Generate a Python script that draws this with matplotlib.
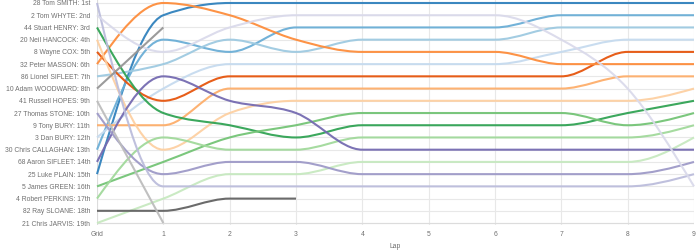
import matplotlib
matplotlib.use("Agg")
import matplotlib.pyplot as plt
from matplotlib.path import Path
from matplotlib.patches import PathPatch
from matplotlib import font_manager
import numpy as np

# ---- data ----
lap_labels = ["Grid", "1", "2", "3", "4", "5", "6", "7", "8", "9"]
driver_labels = [
    "28 Tom SMITH: 1st", "2 Tom WHYTE: 2nd", "44 Stuart HENRY: 3rd",
    "20 Neil HANCOCK: 4th", "8 Wayne COX: 5th", "32 Peter MASSON: 6th",
    "86 Lionel SIFLEET: 7th", "10 Adam WOODWARD: 8th", "41 Russell HOPES: 9th",
    "27 Thomas STONE: 10th", "9 Tony BURY: 11th", "3 Dan BURY: 12th",
    "30 Chris CALLAGHAN: 13th", "68 Aaron SIFLEET: 14th", "25 Luke PLAIN: 15th",
    "5 James GREEN: 16th", "4 Robert PERKINS: 17th", "82 Ray SLOANE: 18th",
    "21 Chris JARVIS: 19th",
]
# position at Grid, lap 1 ... lap 9 (shorter lists = retired)
pos_smith = [15, 2, 1, 1, 1, 1, 1, 1, 1, 1]
pos_whyte = [13, 4, 5, 3, 3, 3, 3, 2, 2, 2]
pos_henry = [7, 6, 4, 5, 4, 4, 4, 3, 3, 3]
pos_hancock = [12, 8, 6, 6, 6, 6, 6, 5, 4, 4]
pos_cox = [5, 9, 7, 7, 7, 7, 7, 7, 5, 5]
pos_masson = [6, 1, 2, 4, 5, 5, 5, 6, 6, 6]
pos_lsifleet = [11, 11, 8, 8, 8, 8, 8, 8, 7, 7]
pos_woodward = [4, 13, 10, 9, 9, 9, 9, 9, 9, 8]
pos_hopes = [3, 10, 11, 12, 11, 11, 11, 11, 10, 9]
pos_stone = [16, 14, 12, 11, 10, 10, 10, 10, 11, 10]
pos_tbury = [17, 12, 13, 13, 12, 12, 12, 12, 12, 11]
pos_dbury = [19, 17, 15, 15, 14, 14, 14, 14, 14, 12]
pos_callaghan = [14, 7, 9, 10, 13, 13, 13, 13, 13, 13]
pos_asifleet = [10, 15, 14, 14, 15, 15, 15, 15, 15, 14]
pos_plain = [1, 16, 16, 16, 16, 16, 16, 16, 16, 15]
pos_green = [2, 5, 3, 2, 2, 2, 2, 4, 8, 16]
pos_perkins = [18, 18, 17, 17]
pos_sloane = [8, 3]
pos_jarvis = [9, 19]

series = [pos_smith, pos_whyte, pos_henry, pos_hancock, pos_cox, pos_masson,
          pos_lsifleet, pos_woodward, pos_hopes, pos_stone, pos_tbury, pos_dbury,
          pos_callaghan, pos_asifleet, pos_plain, pos_green, pos_perkins,
          pos_sloane, pos_jarvis]

colors = ["#3182bd", "#6baed6", "#9ecae1", "#c6dbef",
          "#e6550d", "#fd8d3c", "#fdae6b", "#fdd0a2",
          "#31a354", "#74c476", "#a1d99b", "#c7e9c0",
          "#756bb1", "#9e9ac8", "#bcbddc", "#dadaeb",
          "#636363", "#969696", "#bdbdbd"]


def monotone_path(xs, ys):
    """d3 curveMonotoneX as cubic Bezier path in data coordinates."""
    xs = np.asarray(xs, float)
    ys = np.asarray(ys, float)
    n = len(xs)
    if n == 2:
        return Path(np.column_stack([xs, ys]), [Path.MOVETO, Path.LINETO])
    h = np.diff(xs)
    s = np.diff(ys) / h
    t = np.zeros(n)
    for i in range(1, n - 1):
        p = (s[i - 1] * h[i] + s[i] * h[i - 1]) / (h[i - 1] + h[i])
        t[i] = (np.sign(s[i - 1]) + np.sign(s[i])) * min(abs(s[i - 1]), abs(s[i]), 0.5 * abs(p))
    t[0] = (3 * s[0] - t[1]) / 2
    t[-1] = (3 * s[-1] - t[-2]) / 2
    verts = [(xs[0], ys[0])]
    codes = [Path.MOVETO]
    for i in range(n - 1):
        dx = (xs[i + 1] - xs[i]) / 3
        verts += [(xs[i] + dx, ys[i] + dx * t[i]),
                  (xs[i + 1] - dx, ys[i + 1] - dx * t[i + 1]),
                  (xs[i + 1], ys[i + 1])]
        codes += [Path.CURVE4] * 3
    return Path(verts, codes)


names = {f.name for f in font_manager.fontManager.ttflist}
if "Liberation Sans Narrow" in names:
    fam, fs = ["Liberation Sans Narrow", "DejaVu Sans"], 5.9
else:
    fam, fs = ["Liberation Sans", "DejaVu Sans"], 4.85
plt.rcParams['font.family'] = fam

fig = plt.figure(figsize=(6.98, 2.5), dpi=100)
ax = fig.add_axes([97 / 698, 25 / 250, (694 - 97) / 698, 225 / 250])

n_rows = len(driver_labels)
ax.set_xlim(0, 9)
ax.set_ylim(19.16, 0.755)

for i, (pos, c) in enumerate(zip(series, colors)):
    xs = np.arange(len(pos))
    path = monotone_path(xs, pos)
    patch = PathPatch(path, facecolor="none", edgecolor=c, lw=1.5,
                      alpha=0.95, clip_on=False, zorder=3 + i * 0.01,
                      capstyle="butt", joinstyle="round")
    ax.add_patch(patch)

ax.set_yticks(np.arange(1, n_rows + 1))
ax.set_yticklabels(driver_labels)
ax.set_xticks(np.arange(len(lap_labels)))
ax.set_xticklabels(lap_labels)
ax.tick_params(axis="both", length=0, labelsize=fs, labelcolor="#707070")
ax.tick_params(axis="y", pad=5)
ax.tick_params(axis="x", pad=4)
ax.set_xlabel("Lap", fontsize=fs, color="#707070", labelpad=4)

ax.grid(True, color="#e8e8e8", lw=0.8)
ax.set_axisbelow(True)
for sp in ax.spines.values():
    sp.set_visible(False)
ax.axhline(19, color="#dcdcdc", lw=0.8, zorder=1)
ax.axvline(0, color="#dcdcdc", lw=0.8, zorder=1)

fig.savefig("out.png", dpi=100)
